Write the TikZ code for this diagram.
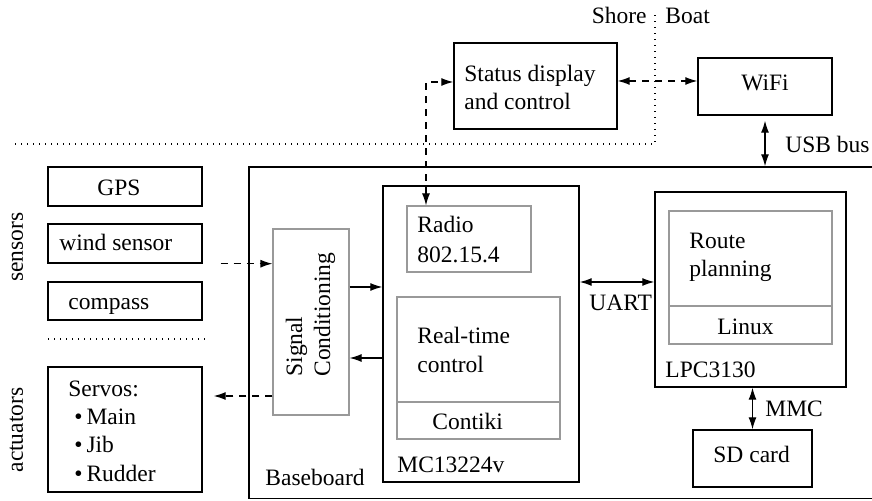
\documentclass[tikz,border=0pt]{standalone}
\usepackage{fontspec}
\setmainfont{Liberation Serif}
\usetikzlibrary{arrows.meta,fit}
\begin{document}
\begin{tikzpicture}[x=0.5pt,y=-0.5pt,
 box/.style={draw, line width=0.7pt, inner sep=0pt},
 gbox/.style={draw=black!40, line width=0.6pt, inner sep=0pt},
 gline/.style={draw=black!40, line width=0.6pt},
 t/.style={inner sep=0pt, font=\fontsize{11.75}{14}\selectfont},
 conn/.style={line width=0.6pt, >={Latex[length=6pt,width=4pt]}},
 dconn/.style={conn, dash pattern=on 3.5pt off 3pt},
 dots/.style={line width=0.6pt, dash pattern=on 0.6pt off 2.4pt}]
\clip (0,0) rectangle (872,501);
% boxes
\node[box, fit={(249,167)(880,498.5)}] (base) {};
\node[box, fit={(454,43)(617,129)}] (status) {};
\node[box, fit={(698,58)(832,115)}] (wifi) {};
\node[box, fit={(48,167)(202,206)}] (gps) {};
\node[box, fit={(48,224)(202,263)}] (wind) {};
\node[box, fit={(48,282)(202,320)}] (compass) {};
\node[box, fit={(48,367)(202,492)}] (servos) {};
\node[gbox, fit={(273,229)(349,415)}] (sc) {};
\node[box, fit={(383,186)(579,482)}] (mc) {};
\node[gbox, fit={(407,206)(531,272)}] (radio) {};
\node[gbox, fit={(397,297)(560,439)}] (rtc) {};
\node[box, fit={(655,192)(846,387)}] (lpc) {};
\node[gbox, fit={(669,211)(832,344)}] (route) {};
\node[box, fit={(693,430)(812,487)}] (sd) {};
% dividers
\coordinate (dv1) at (0,402);
\coordinate (dv2) at (0,306);
\draw[gline] (rtc.west |- dv1) -- (rtc.east |- dv1);
\draw[gline] (route.west |- dv2) -- (route.east |- dv2);
% dotted separators
\coordinate (d1) at (15,144);
\coordinate (d2) at (655,144);
\coordinate (d3) at (655,13);
\draw[dots] (d1) -- (d2) -- (d3);
\coordinate (d4) at (48,339);
\coordinate (d5) at (206,339);
\draw[dots] (d4) -- (d5);
% texts
\node[t, anchor=base east] (shore) at (647,24) {Shore};
\node[t, anchor=base west] (boat) at (665,24) {Boat};
\node[t, anchor=base west] (st1) at (464,82) {Status display};
\node[t, anchor=base west] (st2) at (464,110) {and control};
\node[t, anchor=base] (wifit) at (765,90.7) {WiFi};
\node[t, anchor=base west] (usb) at (785,152.7) {USB bus};
\node[t, anchor=base west] (gpst) at (97,196) {GPS};
\node[t, anchor=base west] (windt) at (59,251) {wind sensor};
\node[t, anchor=base west] (compt) at (68,310) {compass};
\node[t, anchor=base west] (sv0) at (68,397) {Servos:};
\node[t, anchor=base west] (sv1) at (74,425) {\textbullet\,Main};
\node[t, anchor=base west] (sv2) at (74,453) {\textbullet\,Jib};
\node[t, anchor=base west] (sv3) at (74,482) {\textbullet\,Rudder};
\node[t, rotate=90, anchor=base] (sens) at (23,247) {sensors};
\node[t, rotate=90, anchor=base] (act) at (23,430) {actuators};
\node[t, rotate=90, anchor=base west] (sig1) at (302,377) {Signal};
\node[t, rotate=90, anchor=base west] (sig2) at (330,377) {Conditioning};
\node[t, anchor=base west] (rad1) at (417,233) {Radio};
\node[t, anchor=base west] (rad2) at (417,263) {802.15.4};
\node[t, anchor=base west] (rt1) at (417,344) {Real-time};
\node[t, anchor=base west] (rt2) at (417,373) {control};
\node[t, anchor=base west] (cont) at (432,430) {Contiki};
\node[t, anchor=base west] (mct) at (397,473) {MC13224v};
\node[t, anchor=base west] (rp1) at (689,248.5) {Route};
\node[t, anchor=base west] (rp2) at (689,277) {planning};
\node[t, anchor=base west] (linux) at (717,335) {Linux};
\node[t, anchor=base west] (lpct) at (665,378) {LPC3130};
\node[t, anchor=base west] (mmc) at (765,417) {MMC};
\node[t, anchor=base west] (sdt) at (713,463) {SD card};
\node[t, anchor=base west] (uart) at (589,311) {UART};
\node[t, anchor=base west] (baset) at (265,486) {Baseboard};
% connectors
\coordinate (rb) at (426,82);
\draw[dconn,<->] (radio.north -| rb) |- (status.west |- rb);
\coordinate (sw) at (0,81);
\draw[dconn,<->] (status.east |- sw) -- (wifi.west |- sw);
\draw[conn,<->, shorten <=2.5pt] (wifi.south) -- (wifi.south |- base.north);
\draw[dconn,->, shorten <=9pt] (wind.south east) -- (sc.west |- wind.south);
\coordinate (sv) at (0,396);
\draw[dconn,->, shorten >=5.5pt] (sc.west |- sv) -- (servos.east |- sv);
\coordinate (a1) at (0,287);
\draw[conn,->] (sc.east |- a1) -- (mc.west |- a1);
\coordinate (a2) at (0,358);
\draw[conn,->] (mc.west |- a2) -- (sc.east |- a2);
\coordinate (ua) at (0,282);
\draw[conn,<->] (mc.east |- ua) -- (lpc.west |- ua);
\draw[conn,<->] (sd.north) -- (sd.north |- lpc.south);
\end{tikzpicture}
\end{document}
